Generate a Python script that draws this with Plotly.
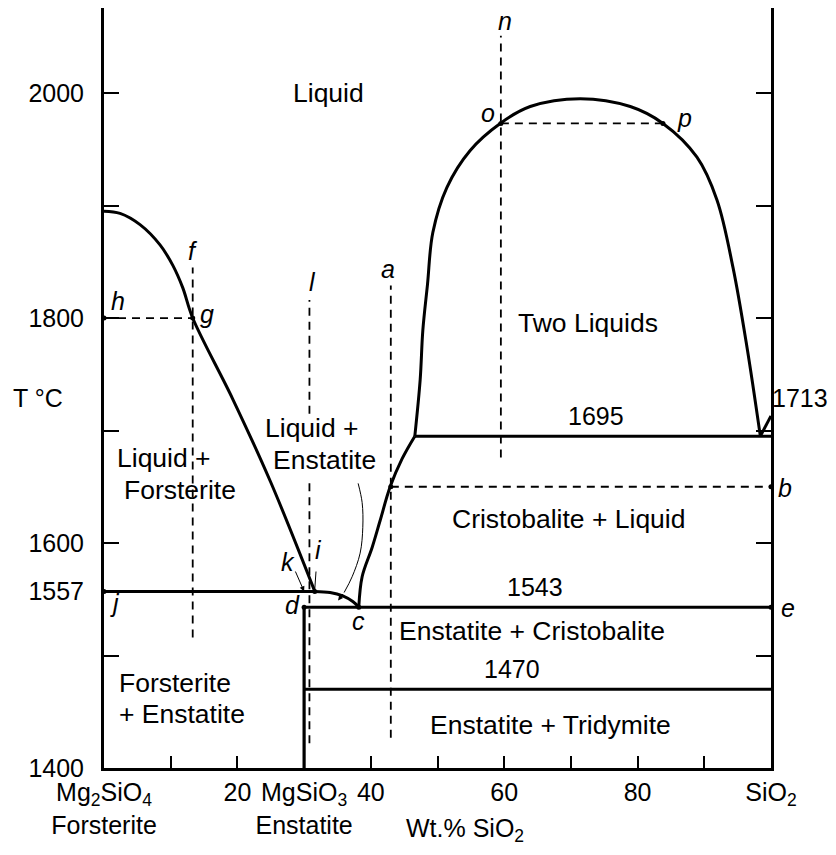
import plotly.graph_objects as go

# ---------------- data ----------------
# Forsterite liquidus (Mg2SiO4 melting point down to peritectic i)
forst_liq_x = [0, 2.4, 5.4, 8.4, 10.3, 11.8, 13.3, 19.3, 25.0, 31.6]
forst_liq_T = [1895, 1893, 1883, 1865, 1847, 1827, 1800, 1728, 1654, 1557]
# Enstatite liquidus (i to eutectic c)
enst_liq_x = [31.6, 33.9, 35.8, 37.3, 38.2]
enst_liq_T = [1557, 1556, 1553, 1548, 1543]
# Cristobalite liquidus (c up to 1695 monotectic)
cris_liq_x = [38.2, 38.7, 40.2, 41.4, 42.9, 44.7, 46.6]
cris_liq_T = [1543, 1570, 1596, 1620, 1650, 1675, 1695]
# Two-liquid solvus (dome)
dome_x = [46.6, 47.4, 47.8, 48.5, 49.3, 51.4, 54.9, 59.4, 63.9, 71.4, 78.9,
          83.8, 88.9, 91.9, 94.3, 96.4, 98.4]
dome_T = [1695, 1745, 1789, 1830, 1876, 1916, 1949, 1973, 1988, 1995, 1988,
          1973, 1943, 1905, 1845, 1774, 1695]
# Cristobalite liquidus near pure SiO2
sio2_liq_x = [98.4, 100]
sio2_liq_T = [1695, 1713]

# Isotherms: (T, x_start, x_end)
isotherm_T = [1695, 1557, 1543, 1470]
isotherm_x0 = [46.6, 0, 30, 30]
isotherm_x1 = [100, 31.6, 100, 100]
isotherm_lbl_x = [73.8, None, 64.6, 61.2]

# Enstatite composition line
enstatite_x = 30
enstatite_T = [1400, 1543]

# Dashed construction lines
dash_vert_x = [13.3, 30.8, 30.8, 43.0, 59.5]
dash_vert_T0 = [1516, 1422, 1715, 1427, 1676]
dash_vert_T1 = [1845, 1658, 1816, 1829, 2051]
dash_hor_T = [1800, 1973, 1650]
dash_hor_x0 = [0, 59.5, 43.0]
dash_hor_x1 = [13.3, 83.8, 100]

# Marked points
pt_x = [0, 13.3, 59.5, 83.8, 43.0, 100, 100, 0, 30, 38.2, 31.6]
pt_T = [1800, 1800, 1973, 1973, 1650, 1650, 1543, 1557, 1543, 1543, 1557]

# Point letters
letters = ["n", "o", "p", "f", "h", "g", "l", "a", "k", "i", "j", "d", "c", "b", "e"]
letter_x = [60.1, 57.6, 87.1, 13.3, 2.1, 15.4, 31.2, 42.6, 27.6, 32.1, 1.6, 28.2, 38.1, 102.1, 102.5]
letter_T = [2064, 1982, 1978, 1860, 1815, 1804, 1832, 1844, 1583, 1594, 1547, 1545, 1531, 1649, 1542]

# Field labels
fields = ["Liquid", "Two Liquids", "Liquid +", "Forsterite", "Liquid +", "Enstatite",
          "Cristobalite + Liquid", "Enstatite + Cristobalite", "Enstatite + Tridymite"]
field_x = [33.7, 72.6, 9.0, 11.4, 31.2, 33.0, 69.7, 64.2, 67.0]
field_T = [2000, 1796, 1676, 1647, 1702, 1674, 1621, 1522, 1438]
fe_lines = ["Forsterite", "+ Enstatite"]
fe_x = [1.95, 1.95]
fe_T = [1476, 1448]

# Leader curve from "Liquid + Enstatite" to the enstatite liquidus
leader_x = [38.1, 38.7, 38.8, 38.4, 37.2, 36.0]
leader_T = [1653, 1636, 1614, 1591, 1570, 1556]

# Axes
y_tickvals = [1400, 1500, 1557, 1600, 1700, 1800, 1900, 2000]
y_ticktext = ["1400", "", "1557", "1600", "", "1800", "", "2000"]
y2_tickvals = [1500, 1600, 1700, 1800, 1900, 2000]
x_tickvals = [0, 10, 20, 30, 40, 50, 60, 70, 80, 90, 100]
x_ticktext = ["Mg<sub>2</sub>SiO<sub>4</sub><br>Forsterite", "", "20",
              "MgSiO<sub>3</sub><br>Enstatite", "40", "", "60", "", "80", "",
              "SiO<sub>2</sub>"]
X_MIN, X_MAX = 0, 100
Y_MIN, Y_MAX = 1400, 2075.6

FONT = "Liberation Sans, Arial, Helvetica, sans-serif"
BLK = "black"

fig = go.Figure()

def solid(x, y, w=3, spline=False):
    fig.add_trace(go.Scatter(x=x, y=y, mode="lines",
                             line=dict(color=BLK, width=w,
                                       shape="spline" if spline else "linear",
                                       smoothing=1.0 if spline else None),
                             showlegend=False, hoverinfo="skip"))

def dashed(x, y):
    fig.add_trace(go.Scatter(x=x, y=y, mode="lines",
                             line=dict(color=BLK, width=1.8, dash="8px,6px"),
                             showlegend=False, hoverinfo="skip"))

# dashed construction lines
for x, t0, t1 in zip(dash_vert_x, dash_vert_T0, dash_vert_T1):
    dashed([x, x], [t0, t1])
for t, x0, x1 in zip(dash_hor_T, dash_hor_x0, dash_hor_x1):
    dashed([x0, x1], [t, t])

# phase boundaries
solid(forst_liq_x, forst_liq_T, spline=True)
solid(enst_liq_x, enst_liq_T, spline=True)
solid(cris_liq_x, cris_liq_T, spline=True)
solid(dome_x, dome_T, spline=True)
solid(sio2_liq_x, sio2_liq_T)
for t, x0, x1 in zip(isotherm_T, isotherm_x0, isotherm_x1):
    solid([x0, x1], [t, t])
solid([enstatite_x, enstatite_x], enstatite_T, w=3.2)

# leader line
solid(leader_x, leader_T, w=1, spline=True)

# points
fig.add_trace(go.Scatter(x=pt_x, y=pt_T, mode="markers",
                         marker=dict(color=BLK, size=5), cliponaxis=False,
                         showlegend=False, hoverinfo="skip"))

# right axis (needs a trace)
fig.add_trace(go.Scatter(x=[100], y=[1713], yaxis="y2", mode="markers",
                         marker=dict(color=BLK, size=1, opacity=0),
                         showlegend=False, hoverinfo="skip"))


def place(x, t):
    """Annotation position; outside the data range, switch to paper coords."""
    if X_MIN <= x <= X_MAX and Y_MIN <= t <= Y_MAX:
        return dict(x=x, y=t, xref="x", yref="y")
    return dict(x=(x - X_MIN) / (X_MAX - X_MIN), y=(t - Y_MIN) / (Y_MAX - Y_MIN),
                xref="paper", yref="paper")


def text(s, x, t, size=26, **kw):
    d = place(x, t)
    d.update(dict(text=s, showarrow=False, xanchor="center", yanchor="middle",
                  font=dict(size=size, family=FONT, color=BLK)))
    d.update(kw)
    return d


ann = []
for s, x, t in zip(letters, letter_x, letter_T):
    ann.append(text("<i>%s</i>" % s, x, t, size=25))
for s, x, t in zip(fields, field_x, field_T):
    ann.append(text(s, x, t, size=26.5))
for s, x, t in zip(fe_lines, fe_x, fe_T):
    ann.append(text(s, x, t, size=26.5, xanchor="left"))
for t, lx in zip(isotherm_T, isotherm_lbl_x):
    if lx is not None:
        ann.append(text(str(t), lx, t + 18, size=25))
ann.append(text(str(sio2_liq_T[-1]), 104.4, 1729, size=25))
ann.append(text("T °C", -9.9, 1729, size=25))
ann.append(text("Wt.% SiO<sub>2</sub>", 54.1, 1345, size=25))

# arrows: k -> enstatite on 1557, leader tip, i pointer
ann.append(dict(x=30, y=1557, ax=28.6, ay=1576, axref="x", ayref="y",
                xref="x", yref="y",
                showarrow=True, arrowhead=2, arrowsize=1, arrowwidth=1,
                arrowcolor=BLK, text=""))
ann.append(dict(x=35.1, y=1549, ax=36.0, ay=1556, axref="x", ayref="y",
                xref="x", yref="y",
                showarrow=True, arrowhead=2, arrowsize=1, arrowwidth=1,
                arrowcolor=BLK, text=""))
ann.append(dict(x=31.6, y=1559, ax=31.8, ay=1576, axref="x", ayref="y",
                xref="x", yref="y",
                showarrow=True, arrowhead=0, arrowwidth=1,
                arrowcolor=BLK, text=""))

# the page body has an 8px margin on every side: size the figure so it fits
# the window without overflow and the plot area lands where the reference has it
fig.update_layout(
    width=820, height=839,
    margin=dict(l=96, r=57, t=0, b=79, autoexpand=False),
    paper_bgcolor="white", plot_bgcolor="white",
    font=dict(family=FONT, size=25, color=BLK),
    showlegend=False,
    annotations=ann,
    xaxis=dict(range=[X_MIN, X_MAX], showgrid=False, zeroline=False,
               showline=True, linecolor=BLK, linewidth=3,
               ticks="inside", ticklen=12, tickwidth=2, tickcolor=BLK,
               tickvals=x_tickvals, ticktext=x_ticktext,
               tickfont=dict(size=25, family=FONT, color=BLK),
               ticklabelstandoff=0),
    yaxis=dict(range=[Y_MIN, Y_MAX], showgrid=False, zeroline=False,
               showline=True, linecolor=BLK, linewidth=3,
               ticks="inside", ticklen=15, tickwidth=2, tickcolor=BLK,
               tickvals=y_tickvals, ticktext=y_ticktext,
               tickfont=dict(size=25, family=FONT, color=BLK),
               ticklabelstandoff=12),
    yaxis2=dict(range=[Y_MIN, Y_MAX], overlaying="y", side="right", anchor="x",
                showgrid=False, zeroline=False,
                showline=True, linecolor=BLK, linewidth=3,
                ticks="inside", ticklen=15, tickwidth=2, tickcolor=BLK,
                tickvals=y2_tickvals, showticklabels=False),
)

fig.write_html("out.html")
